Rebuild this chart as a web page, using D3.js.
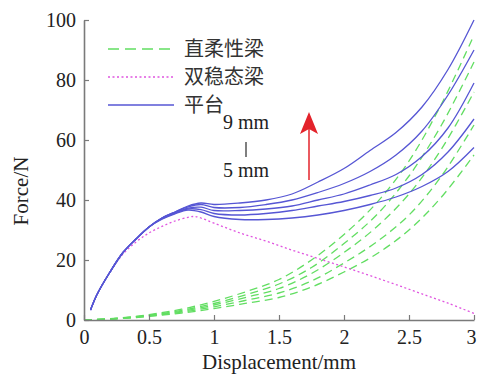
<!DOCTYPE html>
<html>
<head>
<meta charset="utf-8">
<script src="https://cdn.jsdelivr.net/npm/d3@7"></script>
<style>
  html, body { margin: 0; padding: 0; background: #fff; }
  svg { display: block; }
  .serif { font-family: "Liberation Serif", "Times New Roman", serif; fill: #222; }
  .cjk { font-family: "Noto Sans CJK SC", sans-serif; fill: #333; }
</style>
</head>
<body>
<svg id="chart" width="477" height="374"></svg>
<script>
// Platform (平台) force curves, 9 mm down to 5 mm
const blueX = [0.05,0.1,0.2,0.3,0.4,0.5,0.6,0.7,0.8,0.9,1.0,1.2,1.4,1.6,1.8,2.0,2.2,2.4,2.6,2.8,3.0];
const blue9 = [3.3,8.5,16,22.5,27,31,34,36,38,39,38.5,39,40,42,46,50.5,56.5,62.5,71,83.5,100];
const blue8 = [3.3,8.5,16,22.5,27,31,34,36,37.7,38.5,37.5,37.5,38.5,40,42.5,45.5,49.5,55,63,75,90];
const blue7 = [3.3,8.5,16,22.5,27,31,34,35.8,37.3,37.6,36.5,36.5,37,38,40,42,45,48.5,54.5,64,79];
const blue6 = [3.3,8.5,16,22.5,27,31,33.8,35.6,37,36.8,35.5,35,35.5,36.5,38,39.5,41.5,44,48.5,56,67];
const blue5 = [3.3,8.5,16,22.5,27,31,33.6,35.4,36.6,36,34.5,33.5,33.5,34,35,36.5,38.5,41,44.5,49.5,57.5];

// Straight flexible beam (直柔性梁) curves
const greenX = [0,0.25,0.5,0.75,1,1.25,1.5,1.75,2,2.25,2.5,2.75,3];
const green9 = [0,0.6,1.8,3.6,6.2,9.5,13.5,20,28.5,39,53,72,95];
const green8 = [0,0.5,1.6,3.2,5.5,8.5,12,17.5,25.5,35,48,65,86];
const green7 = [0,0.5,1.5,2.9,5,7.6,10.5,15.5,22.5,31,42,57,76];
const green6 = [0,0.4,1.3,2.6,4.4,6.6,9,13,19,26,35,48,65];
const green5 = [0,0.4,1.2,2.3,3.8,5.6,7.5,11,16,22,30,41,55];

// Bistable beam (双稳态梁) curve
const pinkX = [0.05,0.1,0.2,0.3,0.4,0.5,0.6,0.7,0.8,0.85,0.9,1.0,1.2,1.4,1.6,1.8,2.0,2.2,2.4,2.6,2.8,3.0];
const pinkY = [3.3,8.5,16,22,26,29,31.2,33,34.2,34.5,34,32.3,29,26.3,23.3,20.5,17.7,14.8,11.8,8.7,5.6,2.2];

const xTicks = [0,0.5,1,1.5,2,2.5,3];
const yTicks = [0,20,40,60,80,100];
const legendLabels = ["直柔性梁","双稳态梁","平台"];
const rangeLabels = ["9 mm","5 mm"];

const svg = d3.select("#chart");
const x = d3.scaleLinear().domain([0,3]).range([84,474]);
const y = d3.scaleLinear().domain([0,100]).range([320,20]);

const BLUE = "#5656d4", GREEN = "#62de62", PINK = "#e055e0", AXIS = "#7a7a7a";

const line = d3.line().x(d => x(d[0])).y(d => y(d[1])).curve(d3.curveCatmullRom.alpha(0.5));
const pairs = (xs, ys) => xs.map((v,i) => [v, ys[i]]);

// green dashed curves
[green9, green8, green7, green6, green5].forEach(g => {
  svg.append("path").attr("d", line(pairs(greenX, g)))
    .attr("fill","none").attr("stroke",GREEN).attr("stroke-width",1.3)
    .attr("stroke-dasharray","8,5");
});
// pink dotted curve
svg.append("path").attr("d", line(pairs(pinkX, pinkY)))
  .attr("fill","none").attr("stroke",PINK).attr("stroke-width",1.3)
  .attr("stroke-dasharray","2,2.5");
// blue solid curves
[blue9, blue8, blue7, blue6, blue5].forEach(b => {
  svg.append("path").attr("d", line(pairs(blueX, b)))
    .attr("fill","none").attr("stroke",BLUE).attr("stroke-width",1.3);
});

// axes
const xAxis = d3.axisBottom(x).tickValues(xTicks).tickSizeInner(-5).tickSizeOuter(0).tickPadding(10)
  .tickFormat(d => String(d));
const yAxis = d3.axisLeft(y).tickValues(yTicks).tickSizeInner(-5).tickSizeOuter(0).tickPadding(8);
const gx = svg.append("g").attr("transform","translate(0,320)").call(xAxis);
const gy = svg.append("g").attr("transform","translate(84,0)").call(yAxis);
[gx, gy].forEach(g => {
  g.select(".domain").attr("stroke",AXIS).attr("stroke-width",1.6);
  g.selectAll(".tick line").attr("stroke",AXIS).attr("stroke-width",1.2);
  g.selectAll(".tick text").attr("class","serif").attr("font-size",20).attr("fill","#222");
});
gx.selectAll(".tick text").attr("dy","0.71em");
// keep the last x label inside the frame
gx.selectAll(".tick text").filter(d => d === 3).attr("dx", -3);

// axis titles
svg.append("text").attr("class","serif").attr("x",279).attr("y",369)
  .attr("text-anchor","middle").attr("font-size",21).text("Displacement/mm");
svg.append("text").attr("class","serif")
  .attr("transform","translate(28,191) rotate(-90)")
  .attr("text-anchor","middle").attr("font-size",21).text("Force/N");

// legend
const legendY = [49, 77, 105];
const legendStyle = [
  {c: GREEN, dash: "11,6"},
  {c: PINK, dash: "2,2.5"},
  {c: BLUE, dash: null}
];
legendLabels.forEach((t,i) => {
  svg.append("line").attr("x1",108).attr("x2",174).attr("y1",legendY[i]).attr("y2",legendY[i])
    .attr("stroke",legendStyle[i].c).attr("stroke-width",1.5)
    .attr("stroke-dasharray",legendStyle[i].dash);
  svg.append("text").attr("class","cjk").attr("x",184).attr("y",legendY[i]+7)
    .attr("font-size",20).text(t);
});

// 9 mm → 5 mm annotation
svg.append("text").attr("class","serif").attr("x",246).attr("y",129)
  .attr("text-anchor","middle").attr("font-size",20).text(rangeLabels[0]);
svg.append("line").attr("x1",246).attr("x2",246).attr("y1",142).attr("y2",157)
  .attr("stroke","#555").attr("stroke-width",1.5);
svg.append("text").attr("class","serif").attr("x",246).attr("y",177)
  .attr("text-anchor","middle").attr("font-size",20).text(rangeLabels[1]);

// red arrow
svg.append("line").attr("x1",309).attr("x2",309).attr("y1",180).attr("y2",128)
  .attr("stroke","#e3232b").attr("stroke-width",1.5);
svg.append("path").attr("d","M309,112 L318,134 L309,129 L300,134 Z").attr("fill","#e3232b");
</script>
</body>
</html>
